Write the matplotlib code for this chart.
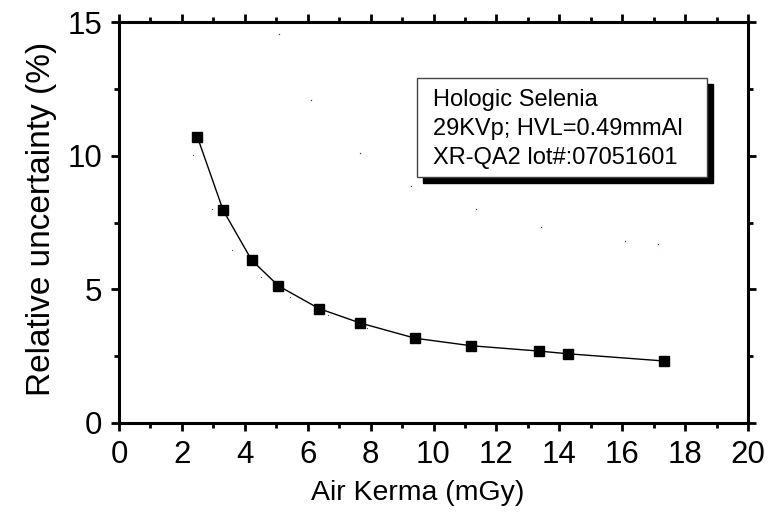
import matplotlib
matplotlib.use("Agg")
import matplotlib.pyplot as plt
from matplotlib.ticker import MultipleLocator
from matplotlib.patches import Rectangle

plt.rcParams['font.family'] = ['Liberation Sans', 'DejaVu Sans']

# datos
kerma = [2.49, 3.31, 4.22, 5.07, 6.36, 7.67, 9.42, 11.2, 13.36, 14.27, 17.33]
incert = [10.71, 7.96, 6.09, 5.13, 4.28, 3.74, 3.17, 2.89, 2.69, 2.59, 2.32]

# puntos sueltos (restos de otras curvas)
gris_x = [2.35, 2.95, 3.58, 4.51, 5.45, 6.66, 7.90]
gris_y = [10.03, 8.02, 6.47, 5.46, 4.73, 4.03, 3.54]
azul_x = [5.10, 6.12, 7.66, 9.27, 11.36, 13.42, 16.08, 17.13]
azul_y = [14.55, 12.07, 10.1, 8.87, 8.0, 7.32, 6.81, 6.71]

info = ["Hologic Selenia", "29KVp; HVL=0.49mmAl", "XR-QA2 lot#:07051601"]

fig = plt.figure(figsize=(7.77, 5.13), dpi=100)
ax = fig.add_axes([119/777, 1 - 423/513, (748 - 119)/777, (423 - 22)/513])

ax.plot(kerma, incert, color='black', linewidth=1.0, marker='s',
        markersize=6.5, markerfacecolor='black', markeredgecolor='black', zorder=5)
ax.plot(gris_x, gris_y, linestyle='none', marker='s', markersize=0.8,
        color='#555555', markeredgewidth=0)
ax.plot(azul_x, azul_y, linestyle='none', marker='s', markersize=0.9,
        color='#3030e0', markeredgewidth=0)

ax.set_xlim(0, 20)
ax.set_ylim(0, 15)
ax.xaxis.set_major_locator(MultipleLocator(2))
ax.xaxis.set_minor_locator(MultipleLocator(1))
ax.yaxis.set_major_locator(MultipleLocator(5))
ax.yaxis.set_minor_locator(MultipleLocator(2.5))

for s in ax.spines.values():
    s.set_linewidth(2.2)

ax.tick_params(which='both', direction='out', top=True, right=True,
               labeltop=False, labelright=False, labelsize=22.5, pad=6)
ax.tick_params(which='major', length=6, width=2)
ax.tick_params(which='minor', length=3.5, width=2)

ax.set_xlabel("Air Kerma (mGy)", fontsize=20.5)
ax.set_ylabel("Relative uncertainty (%)", fontsize=24)
ax.xaxis.set_label_coords(0.4746, -0.142)
ax.yaxis.set_label_coords(-0.099, 0.51)

# cuadro de texto con sombra
x0, y0 = 417/777, 1 - 177/513
w, h = (707 - 417)/777, (177 - 78)/513
fig.patches.append(Rectangle((x0 + 6/777, y0 - 6/513), w, h, transform=fig.transFigure,
                             facecolor='black', edgecolor='black', zorder=3))
fig.patches.append(Rectangle((x0, y0), w, h, transform=fig.transFigure,
                             facecolor='white', edgecolor='#444444', linewidth=1, zorder=4))
for i, linea in enumerate(info):
    fig.text(433/777, 1 - (100 + 29 * i)/513, linea, fontsize=17,
             ha='left', va='center', zorder=6)

fig.savefig("out.png", dpi=100)
